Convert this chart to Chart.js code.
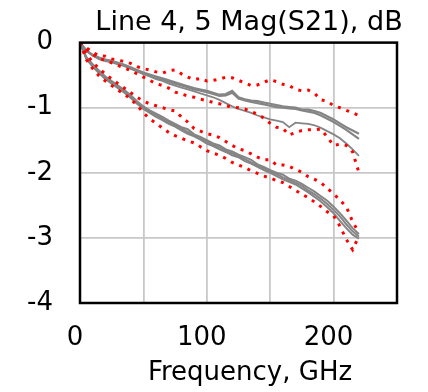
<!DOCTYPE html>
<html>
<head>
<meta charset="utf-8">
<script src="https://cdn.jsdelivr.net/npm/chart.js@4"></script>
<style>
  html, body { margin: 0; padding: 0; background: #fff; }
  #wrap { width: 428px; height: 392px; }
</style>
</head>
<body>
<div id="wrap"><canvas id="graphique"></canvas></div>
<script>
// frequences en GHz
const freq = [0,5,10,15,20,25,30,35,40,45,50,55,60,65,70,75,80,85,90,95,100,105,110,115,120,125,130,135,140,145,150,155,160,165,170,175,180,185,190,195,200,205,210,215,220];

// line 4 (groupe du haut), courbes mesurees
const haut1 = [0,-0.12,-0.19,-0.23,-0.26,-0.28,-0.31,-0.34,-0.38,-0.42,-0.46,-0.49,-0.52,-0.55,-0.58,-0.61,-0.64,-0.67,-0.70,-0.72,-0.74,-0.77,-0.80,-0.79,-0.74,-0.84,-0.87,-0.89,-0.90,-0.92,-0.94,-0.96,-0.98,-0.99,-1.00,-1.03,-1.03,-1.05,-1.08,-1.13,-1.18,-1.24,-1.30,-1.35,-1.40];
const haut2 = [0,-0.13,-0.20,-0.25,-0.28,-0.30,-0.33,-0.36,-0.40,-0.44,-0.48,-0.51,-0.54,-0.57,-0.60,-0.63,-0.66,-0.69,-0.72,-0.74,-0.76,-0.79,-0.82,-0.81,-0.77,-0.86,-0.89,-0.91,-0.93,-0.95,-0.97,-0.99,-1.00,-1.01,-1.02,-1.04,-1.06,-1.08,-1.12,-1.17,-1.22,-1.28,-1.34,-1.41,-1.48];
const haut3 = [0,-0.12,-0.19,-0.24,-0.27,-0.29,-0.32,-0.35,-0.39,-0.43,-0.48,-0.52,-0.56,-0.59,-0.63,-0.66,-0.69,-0.72,-0.75,-0.78,-0.81,-0.84,-0.88,-0.93,-0.98,-1.02,-1.05,-1.08,-1.12,-1.15,-1.18,-1.20,-1.22,-1.30,-1.23,-1.24,-1.25,-1.27,-1.31,-1.36,-1.41,-1.47,-1.55,-1.64,-1.74];
// enveloppes (pointilles rouges)
const hautMax = [0,-0.08,-0.15,-0.20,-0.21,-0.25,-0.27,-0.29,-0.32,-0.37,-0.40,-0.42,-0.45,-0.47,-0.43,-0.42,-0.48,-0.53,-0.57,-0.55,-0.59,-0.58,-0.56,-0.53,-0.54,-0.58,-0.62,-0.66,-0.65,-0.61,-0.57,-0.60,-0.64,-0.66,-0.72,-0.74,-0.73,-0.78,-0.88,-0.90,-0.97,-1.00,-1.04,-1.08,-1.12];
const hautMin = [0,-0.10,-0.18,-0.24,-0.28,-0.31,-0.35,-0.39,-0.43,-0.48,-0.53,-0.58,-0.63,-0.66,-0.70,-0.76,-0.79,-0.82,-0.84,-0.87,-0.89,-0.92,-0.94,-0.97,-0.99,-1.00,-1.02,-1.06,-1.10,-1.16,-1.24,-1.30,-1.32,-1.42,-1.38,-1.35,-1.34,-1.34,-1.33,-1.45,-1.58,-1.56,-1.58,-1.68,-2.00];

// line 5 (groupe du bas)
const bas1 = [0,-0.22,-0.33,-0.43,-0.52,-0.59,-0.66,-0.73,-0.81,-0.90,-0.98,-1.04,-1.09,-1.14,-1.20,-1.25,-1.30,-1.33,-1.41,-1.45,-1.50,-1.55,-1.58,-1.64,-1.67,-1.72,-1.76,-1.80,-1.87,-1.91,-1.96,-2.00,-2.03,-2.09,-2.12,-2.17,-2.23,-2.29,-2.36,-2.43,-2.52,-2.62,-2.73,-2.85,-2.94];
const bas2 = [0,-0.24,-0.35,-0.45,-0.54,-0.61,-0.68,-0.75,-0.83,-0.92,-1.00,-1.06,-1.11,-1.17,-1.22,-1.27,-1.32,-1.37,-1.42,-1.47,-1.52,-1.57,-1.61,-1.66,-1.70,-1.74,-1.79,-1.84,-1.89,-1.93,-1.98,-2.02,-2.07,-2.11,-2.15,-2.20,-2.27,-2.33,-2.40,-2.48,-2.57,-2.67,-2.79,-2.90,-2.98];
const bas3 = [0,-0.25,-0.37,-0.47,-0.56,-0.63,-0.70,-0.77,-0.85,-0.94,-1.02,-1.08,-1.14,-1.19,-1.25,-1.29,-1.35,-1.40,-1.44,-1.49,-1.55,-1.59,-1.64,-1.68,-1.73,-1.76,-1.82,-1.86,-1.91,-1.96,-2.00,-2.05,-2.10,-2.14,-2.18,-2.24,-2.30,-2.37,-2.44,-2.53,-2.62,-2.74,-2.85,-2.95,-3.01];
const basMax = [0,-0.18,-0.30,-0.40,-0.48,-0.56,-0.63,-0.70,-0.77,-0.84,-0.90,-0.94,-0.97,-1.00,-1.03,-1.05,-1.14,-1.22,-1.32,-1.36,-1.40,-1.42,-1.46,-1.52,-1.58,-1.63,-1.66,-1.71,-1.76,-1.80,-1.80,-1.88,-1.88,-1.90,-1.95,-1.99,-2.06,-2.10,-2.15,-2.24,-2.32,-2.42,-2.52,-2.75,-2.92];
const basMin = [0,-0.26,-0.40,-0.51,-0.59,-0.66,-0.73,-0.79,-0.87,-0.96,-1.08,-1.17,-1.24,-1.31,-1.38,-1.43,-1.47,-1.51,-1.54,-1.60,-1.66,-1.70,-1.73,-1.78,-1.84,-1.88,-1.92,-1.97,-2.01,-2.05,-2.08,-2.12,-2.15,-2.21,-2.27,-2.33,-2.38,-2.45,-2.52,-2.60,-2.66,-2.82,-3.02,-3.18,-2.97];

const titre = "Line 4, 5 Mag(S21), dB";
const titreX = "Frequency, GHz";
const ticksX = [0, 100, 200];

const police = "DejaVu Sans";

function points(valeurs) {
  return freq.map((f, i) => ({ x: f, y: valeurs[i] }));
}

function courbeGrise(valeurs, epaisseur) {
  return {
    data: points(valeurs),
    borderColor: "#858585",
    borderWidth: epaisseur,
    pointRadius: 0,
    order: 2,
  };
}

function courbeRouge(valeurs) {
  return {
    data: points(valeurs),
    borderColor: "#ff0000",
    borderWidth: 3,
    borderDash: [3, 6],
    pointRadius: 0,
    order: 1,
  };
}

// cadre noir + textes places a la main
const cadre = {
  id: "cadre",
  afterDraw(chart) {
    const { ctx, chartArea: a } = chart;
    ctx.save();
    ctx.strokeStyle = "#000";
    ctx.lineWidth = 2.5;
    ctx.strokeRect(a.left, a.top, a.right - a.left, a.bottom - a.top);
    ctx.fillStyle = "#000";
    ctx.textAlign = "center";
    ctx.textBaseline = "alphabetic";
    ctx.font = `27px "${police}"`;
    ctx.fillText(titre, 249, 30);
    ctx.font = `26px "${police}"`;
    ctx.fillText(titreX, 250, 380);
    ctx.restore();
  }
};

const config = {
  type: "line",
  data: {
    datasets: [
      courbeGrise(haut1, 2.2),
      courbeGrise(haut2, 2.2),
      courbeGrise(haut3, 1.8),
      courbeGrise(bas1, 2),
      courbeGrise(bas2, 2),
      courbeGrise(bas3, 2),
      courbeRouge(hautMax),
      courbeRouge(hautMin),
      courbeRouge(basMax),
      courbeRouge(basMin),
    ],
  },
  options: {
    responsive: true,
    maintainAspectRatio: false,
    animation: false,
    events: [],
    layout: { padding: { top: 34, right: 31, left: 0, bottom: 0 } },
    plugins: { legend: { display: false }, title: { display: false }, tooltip: { enabled: false } },
    scales: {
      x: {
        type: "linear",
        min: 0,
        max: 250,
        border: { display: false },
        grid: { color: "#c8c8c8", lineWidth: 1.8, drawTicks: false },
        ticks: {
          stepSize: 50,
          padding: 20,
          labelOffset: -5,
          color: "#000",
          font: { family: police, size: 26 },
          maxRotation: 0,
          autoSkip: false,
          callback: (v) => (ticksX.includes(v) ? String(v) : ""),
        },
        afterFit: (s) => { s.height = 89; },
      },
      y: {
        min: -4,
        max: 0,
        border: { display: false },
        grid: { color: "#c8c8c8", lineWidth: 1.8, drawTicks: false },
        ticks: {
          stepSize: 1,
          padding: 27,
          color: "#000",
          font: { family: police, size: 26 },
        },
        afterFit: (s) => { s.width = 80; },
      },
    },
  },
  plugins: [cadre],
};

new Chart(document.querySelector("#graphique"), config);
</script>
</body>
</html>
